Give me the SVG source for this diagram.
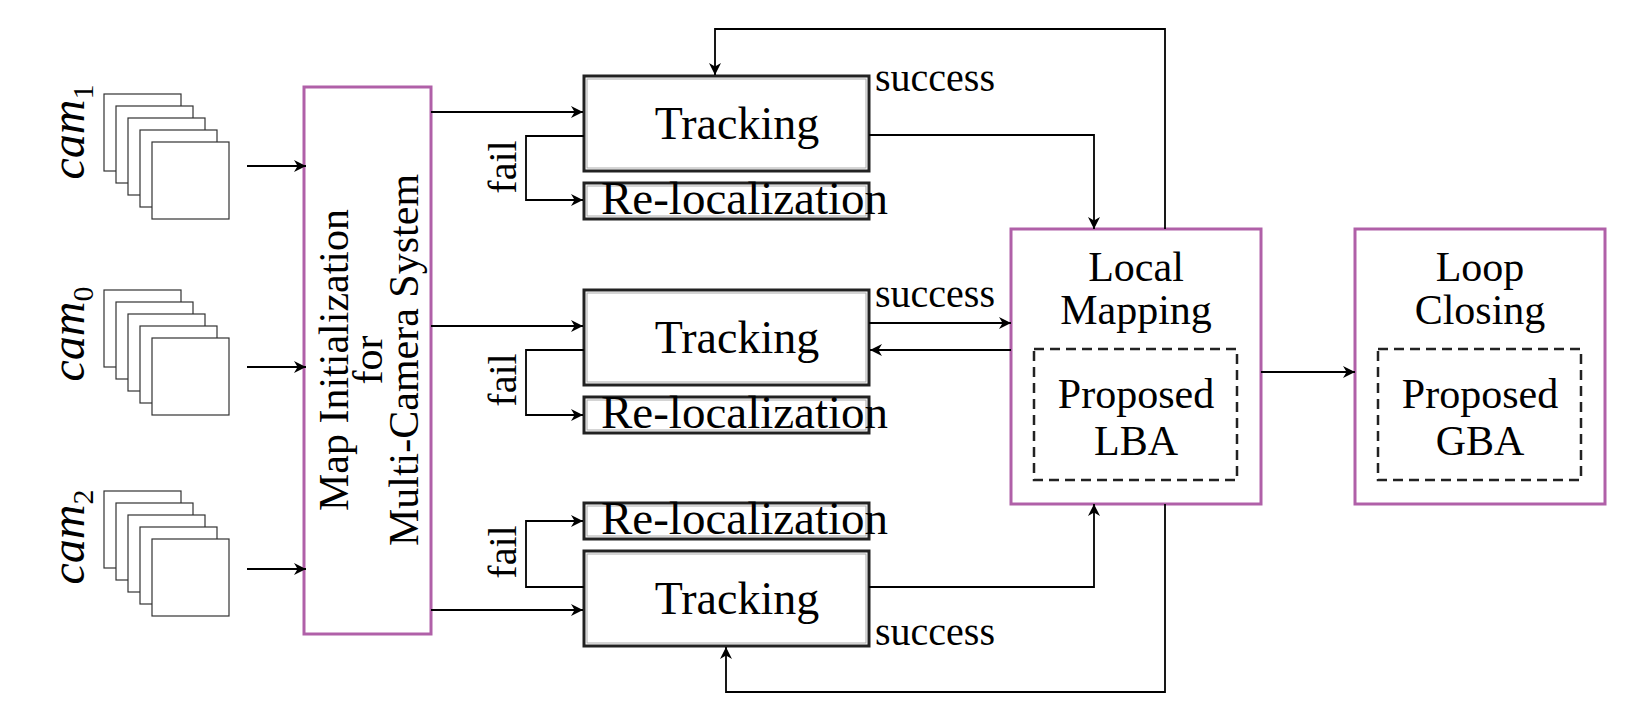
<svg xmlns="http://www.w3.org/2000/svg" width="1634" height="718" viewBox="0 0 1634 718">
<style>
text{font-family:"Liberation Serif","DejaVu Serif",serif;fill:#000}
.cam rect{fill:#fff;stroke:#333;stroke-width:1.2}
.pink{fill:#fff;stroke:#b060a8;stroke-width:3}
.box{fill:#fff;stroke:#222;stroke-width:3}
.inner{fill:none;stroke:#aaa;stroke-width:1}
.dash{fill:none;stroke:#222;stroke-width:2.5;stroke-dasharray:10,6}
.c{fill:none;stroke:#000;stroke-width:1.8}
</style>
<defs>
<marker id="a" viewBox="0 0 10 10" refX="10" refY="5" markerWidth="12" markerHeight="12" markerUnits="userSpaceOnUse" orient="auto"><path d="M0,0 L10,5 L0,10 L3,5 Z" fill="#000"/></marker>
</defs>
<g id="cam1" class="cam"><rect x="104" y="94" width="77" height="77"/><rect x="116" y="106" width="77" height="77"/><rect x="128" y="118" width="77" height="77"/><rect x="140" y="130" width="77" height="77"/><rect x="152" y="142" width="77" height="77"/>
<text transform="translate(84,132) rotate(-90)" text-anchor="middle" font-size="48" font-style="italic">cam<tspan font-size="30" font-style="normal" dy="9">1</tspan></text></g>
<g id="cam0" class="cam"><rect x="104" y="290" width="77" height="77"/><rect x="116" y="302" width="77" height="77"/><rect x="128" y="314" width="77" height="77"/><rect x="140" y="326" width="77" height="77"/><rect x="152" y="338" width="77" height="77"/>
<text transform="translate(84,334) rotate(-90)" text-anchor="middle" font-size="48" font-style="italic">cam<tspan font-size="30" font-style="normal" dy="9">0</tspan></text></g>
<g id="cam2" class="cam"><rect x="104" y="491" width="77" height="77"/><rect x="116" y="503" width="77" height="77"/><rect x="128" y="515" width="77" height="77"/><rect x="140" y="527" width="77" height="77"/><rect x="152" y="539" width="77" height="77"/>
<text transform="translate(84,537) rotate(-90)" text-anchor="middle" font-size="48" font-style="italic">cam<tspan font-size="30" font-style="normal" dy="9">2</tspan></text></g>
<g id="mapinit"><rect class="pink" x="304" y="87" width="127" height="547"/>
<text transform="translate(348,360) rotate(-90)" text-anchor="middle" font-size="42">Map Initialization</text>
<text transform="translate(382,360) rotate(-90)" text-anchor="middle" font-size="42">for</text>
<text transform="translate(418,360) rotate(-90)" text-anchor="middle" font-size="42">Multi-Camera System</text></g>
<g id="track1"><rect class="box" x="584" y="76" width="285" height="95"/><rect class="inner" x="587" y="79" width="279" height="89"/><text x="737" y="139" text-anchor="middle" font-size="46">Tracking</text></g>
<g id="reloc1"><rect class="box" x="584" y="183" width="285" height="36"/><rect class="inner" x="587" y="186" width="279" height="30"/><text x="601" y="214" font-size="47">Re-localization</text></g>
<g id="track2"><rect class="box" x="584" y="290" width="285" height="95"/><rect class="inner" x="587" y="293" width="279" height="89"/><text x="737" y="353" text-anchor="middle" font-size="46">Tracking</text></g>
<g id="reloc2"><rect class="box" x="584" y="397" width="285" height="36"/><rect class="inner" x="587" y="400" width="279" height="30"/><text x="601" y="428" font-size="47">Re-localization</text></g>
<g id="reloc3"><rect class="box" x="584" y="503" width="285" height="36"/><rect class="inner" x="587" y="506" width="279" height="30"/><text x="601" y="534" font-size="47">Re-localization</text></g>
<g id="track3"><rect class="box" x="584" y="551" width="285" height="95"/><rect class="inner" x="587" y="554" width="279" height="89"/><text x="737" y="614" text-anchor="middle" font-size="46">Tracking</text></g>
<g id="localmap"><rect class="pink" x="1011" y="229" width="250" height="275"/><text x="1136" y="281" text-anchor="middle" font-size="42">Local</text><text x="1136" y="324" text-anchor="middle" font-size="42">Mapping</text>
<rect class="dash" x="1034" y="349" width="203" height="131"/><text x="1136" y="408" text-anchor="middle" font-size="42">Proposed</text><text x="1136" y="455" text-anchor="middle" font-size="42">LBA</text></g>
<g id="loopclose"><rect class="pink" x="1355" y="229" width="250" height="275"/><text x="1480" y="281" text-anchor="middle" font-size="42">Loop</text><text x="1480" y="324" text-anchor="middle" font-size="42">Closing</text>
<rect class="dash" x="1378" y="349" width="203" height="131"/><text x="1480" y="408" text-anchor="middle" font-size="42">Proposed</text><text x="1480" y="455" text-anchor="middle" font-size="42">GBA</text></g>
<g id="labels">
<text x="875" y="91" font-size="40">success</text>
<text x="875" y="307" font-size="40">success</text>
<text x="875" y="645" font-size="40">success</text>
<text transform="translate(516,167) rotate(-90)" text-anchor="middle" font-size="40">fail</text>
<text transform="translate(516,380) rotate(-90)" text-anchor="middle" font-size="40">fail</text>
<text transform="translate(516,552) rotate(-90)" text-anchor="middle" font-size="40">fail</text>
</g>
<g id="connectors">
<path class="c" d="M247,166 H306" marker-end="url(#a)"/>
<path class="c" d="M247,367 H306" marker-end="url(#a)"/>
<path class="c" d="M247,569 H306" marker-end="url(#a)"/>
<path class="c" d="M431,112 H583" marker-end="url(#a)"/>
<path class="c" d="M431,326 H583" marker-end="url(#a)"/>
<path class="c" d="M431,610 H583" marker-end="url(#a)"/>
<path class="c" d="M584,136 H526 V200 H583" marker-end="url(#a)"/>
<path class="c" d="M584,350 H526 V415 H583" marker-end="url(#a)"/>
<path class="c" d="M584,587 H526 V521 H583" marker-end="url(#a)"/>
<path class="c" d="M869,135 H1094 V229" marker-end="url(#a)"/>
<path class="c" d="M869,323 H1011" marker-end="url(#a)"/>
<path class="c" d="M1011,350 H870" marker-end="url(#a)"/>
<path class="c" d="M869,587 H1094 V504" marker-end="url(#a)"/>
<path class="c" d="M1165,229 V29 H715 V75" marker-end="url(#a)"/>
<path class="c" d="M1165,504 V692 H726 V647" marker-end="url(#a)"/>
<path class="c" d="M1261,372 H1355" marker-end="url(#a)"/>
</g>
</svg>
